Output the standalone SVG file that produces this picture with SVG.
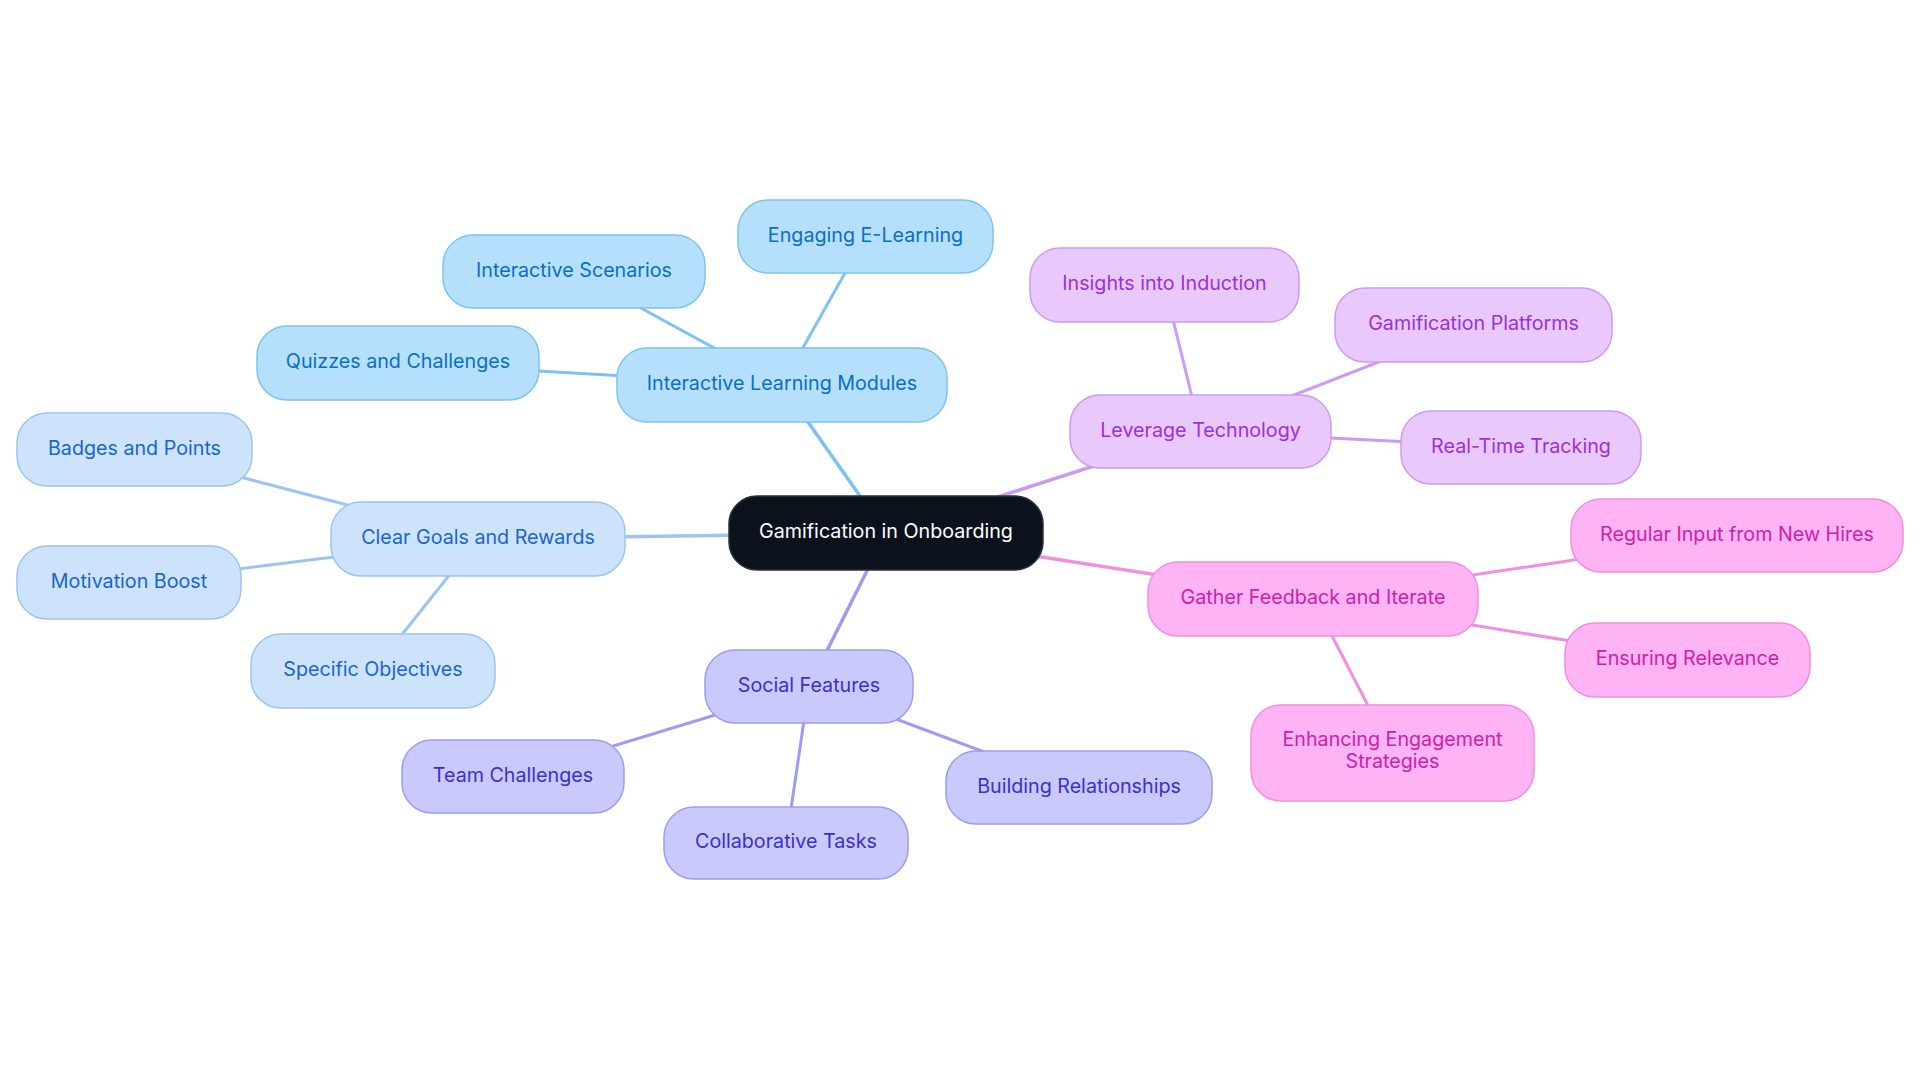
<svg xmlns="http://www.w3.org/2000/svg" width="1920" height="1083" viewBox="0 0 1920 1083">
<style>
  text { font-family: Inter, "Noto Sans", "Liberation Sans", sans-serif; font-size: 19.7px; text-anchor: middle; }
  .edge { fill: none; stroke-linecap: round; }
  .e0 { stroke: #7ec2f0; }
  .e1 { stroke: #9cc4f0; }
  .e2 { stroke: #9c9cf0; }
  .e3 { stroke: #cc9af2; }
  .e4 { stroke: #f08ee2; }
  .root rect { fill: #0b121c; stroke: #2a3140; stroke-width: 1.5; }
  .root text { fill: #ffffff; }
  .s0 rect { fill: #b4e0fe; stroke: #7ec2f0; stroke-width: 1.5; }
  .s0 text { fill: #0b6fc2; }
  .s1 rect { fill: #cde3fb; stroke: #9cc4f0; stroke-width: 1.5; }
  .s1 text { fill: #1a66cc; }
  .s2 rect { fill: #c9c9fd; stroke: #9c9cf0; stroke-width: 1.5; }
  .s2 text { fill: #3a32c8; }
  .s3 rect { fill: #e8c8fd; stroke: #cc9af2; stroke-width: 1.5; }
  .s3 text { fill: #9a32d6; }
  .s4 rect { fill: #fdb3f4; stroke: #f08ee2; stroke-width: 1.5; }
  .s4 text { fill: #cc22aa; }
</style>
<rect width="1920" height="1083" fill="#ffffff"/>
<g id="connectors">
  <g class="edge e0" stroke-width="3.5">
    <line x1="886" y1="533" x2="782" y2="385"/>
  </g>
  <g class="edge e0" stroke-width="3">
    <line x1="782" y1="385" x2="865.5" y2="236.5"/>
    <line x1="782" y1="385" x2="574" y2="271.5"/>
    <line x1="782" y1="385" x2="398" y2="363"/>
  </g>
  <g class="edge e1" stroke-width="3.5">
    <line x1="886" y1="533" x2="478" y2="539"/>
  </g>
  <g class="edge e1" stroke-width="3">
    <line x1="478" y1="539" x2="134.5" y2="449.5"/>
    <line x1="478" y1="539" x2="129" y2="582.5"/>
    <line x1="478" y1="539" x2="373" y2="671"/>
  </g>
  <g class="edge e2" stroke-width="3.5">
    <line x1="886" y1="533" x2="809" y2="686.5"/>
  </g>
  <g class="edge e2" stroke-width="3">
    <line x1="809" y1="686.5" x2="513" y2="776.5"/>
    <line x1="809" y1="686.5" x2="786" y2="843"/>
    <line x1="809" y1="686.5" x2="1079" y2="787.5"/>
  </g>
  <g class="edge e3" stroke-width="3.5">
    <line x1="886" y1="533" x2="1200.5" y2="431.5"/>
  </g>
  <g class="edge e3" stroke-width="3">
    <line x1="1200.5" y1="431.5" x2="1164.5" y2="285"/>
    <line x1="1200.5" y1="431.5" x2="1473.5" y2="325"/>
    <line x1="1200.5" y1="431.5" x2="1521" y2="447.5"/>
  </g>
  <g class="edge e4" stroke-width="3.5">
    <line x1="886" y1="533" x2="1313" y2="599"/>
  </g>
  <g class="edge e4" stroke-width="3">
    <line x1="1313" y1="599" x2="1737" y2="535.5"/>
    <line x1="1313" y1="599" x2="1687.5" y2="660"/>
    <line x1="1313" y1="599" x2="1392.5" y2="753"/>
  </g>
</g>

<g id="root" class="root"><rect x="729" y="496" width="314" height="74" rx="28"/><text x="886" y="538">Gamification in Onboarding</text></g>

<g id="n-ilm" class="s0"><rect x="617" y="348" width="330" height="74" rx="30"/><text x="782" y="390">Interactive Learning Modules</text></g>
<g id="n-engaging" class="s0"><rect x="738" y="200" width="255" height="73" rx="30"/><text x="865.5" y="241.5">Engaging E-Learning</text></g>
<g id="n-scenarios" class="s0"><rect x="443" y="235" width="262" height="73" rx="30"/><text x="574" y="276.5">Interactive Scenarios</text></g>
<g id="n-quizzes" class="s0"><rect x="257" y="326" width="282" height="74" rx="30"/><text x="398" y="368">Quizzes and Challenges</text></g>

<g id="n-goals" class="s1"><rect x="331" y="502" width="294" height="74" rx="30"/><text x="478" y="544">Clear Goals and Rewards</text></g>
<g id="n-badges" class="s1"><rect x="17" y="413" width="235" height="73" rx="30"/><text x="134.5" y="454.5">Badges and Points</text></g>
<g id="n-motivation" class="s1"><rect x="17" y="546" width="224" height="73" rx="30"/><text x="129" y="587.5">Motivation Boost</text></g>
<g id="n-specific" class="s1"><rect x="251" y="634" width="244" height="74" rx="30"/><text x="373" y="676">Specific Objectives</text></g>

<g id="n-social" class="s2"><rect x="705" y="650" width="208" height="73" rx="30"/><text x="809" y="691.5">Social Features</text></g>
<g id="n-team" class="s2"><rect x="402" y="740" width="222" height="73" rx="30"/><text x="513" y="781.5">Team Challenges</text></g>
<g id="n-collab" class="s2"><rect x="664" y="807" width="244" height="72" rx="30"/><text x="786" y="848">Collaborative Tasks</text></g>
<g id="n-building" class="s2"><rect x="946" y="751" width="266" height="73" rx="30"/><text x="1079" y="792.5">Building Relationships</text></g>

<g id="n-leverage" class="s3"><rect x="1070" y="395" width="261" height="73" rx="30"/><text x="1200.5" y="436.5">Leverage Technology</text></g>
<g id="n-insights" class="s3"><rect x="1030" y="248" width="269" height="74" rx="30"/><text x="1164.5" y="290">Insights into Induction</text></g>
<g id="n-platforms" class="s3"><rect x="1335" y="288" width="277" height="74" rx="30"/><text x="1473.5" y="330">Gamification Platforms</text></g>
<g id="n-tracking" class="s3"><rect x="1401" y="411" width="240" height="73" rx="30"/><text x="1521" y="452.5">Real-Time Tracking</text></g>

<g id="n-gather" class="s4"><rect x="1148" y="562" width="330" height="74" rx="30"/><text x="1313" y="604">Gather Feedback and Iterate</text></g>
<g id="n-regular" class="s4"><rect x="1571" y="499" width="332" height="73" rx="30"/><text x="1737" y="540.5">Regular Input from New Hires</text></g>
<g id="n-ensuring" class="s4"><rect x="1565" y="623" width="245" height="74" rx="30"/><text x="1687.5" y="665">Ensuring Relevance</text></g>
<g id="n-enhancing" class="s4"><rect x="1251" y="705" width="283" height="96" rx="30"/><text x="1392.5" y="745.5">Enhancing Engagement</text><text x="1392.5" y="767.5">Strategies</text></g>
</svg>
